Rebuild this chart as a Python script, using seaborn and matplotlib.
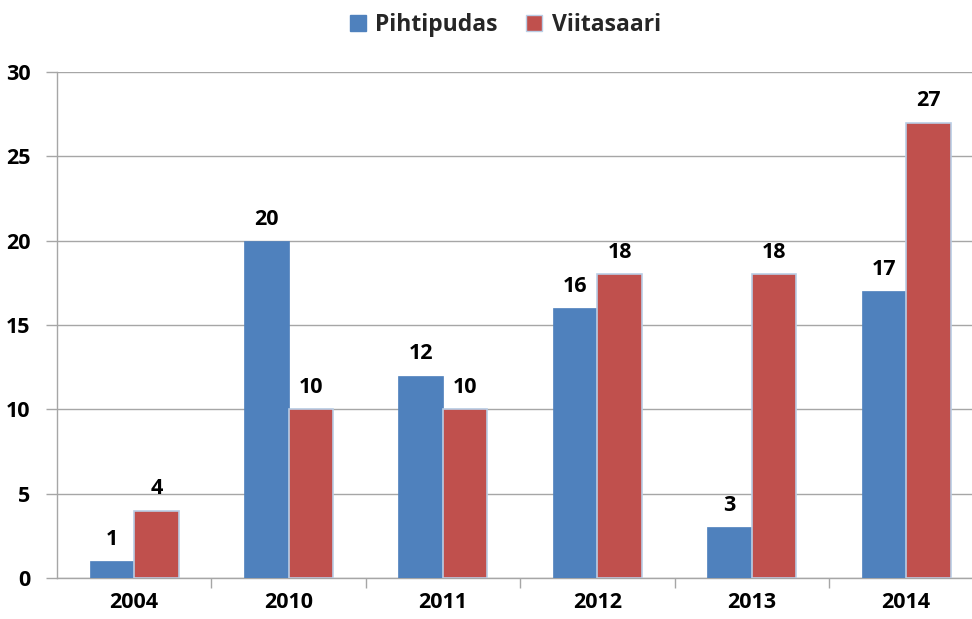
import matplotlib
matplotlib.use("Agg")
import matplotlib.pyplot as plt
import seaborn as sns
import pandas as pd
import numpy as np
from matplotlib.ticker import FixedLocator

years = ["2004", "2010", "2011", "2012", "2013", "2014"]
pihtipudas = [1, 20, 12, 16, 3, 17]
viitasaari = [4, 10, 10, 18, 18, 27]
series_names = ["Pihtipudas", "Viitasaari"]
y_ticks = [0, 5, 10, 15, 20, 25, 30]

df = pd.DataFrame({
    "year": years * 2,
    "value": pihtipudas + viitasaari,
    "series": [series_names[0]] * len(years) + [series_names[1]] * len(years),
})

sns.set_theme(style="white")
plt.rcParams["font.family"] = ["Open Sans", "DejaVu Sans"]
plt.rcParams["font.weight"] = "bold"

fig = plt.figure(figsize=(9.72, 6.19), dpi=100)
ax = fig.add_axes([0.0586, 0.0662, 0.953, 0.8175])

palette = {"Pihtipudas": "#4F81BD", "Viitasaari": "#C0504D"}
sns.barplot(data=df, x="year", y="value", hue="series", palette=palette,
            width=0.576, saturation=1, ax=ax, legend=True, zorder=3)

# light blue outline on the red bars
for bar in ax.containers[1]:
    bar.set_edgecolor("#B9CDE5")
    bar.set_linewidth(1.2)
for bar in ax.containers[0]:
    bar.set_edgecolor("#4F81BD")
    bar.set_linewidth(0.5)

for cont in ax.containers:
    ax.bar_label(cont, labels=[f"{v:.0f}" for v in cont.datavalues],
                 padding=8, fontsize=15.5, fontweight="bold", color="#000000")

ax.set_ylim(0, 30)
ax.set_xlim(-0.5, len(years) - 0.5)
ax.set_yticks(y_ticks)
ax.grid(axis="y", color="#A6A6A6", linewidth=1, zorder=0)
ax.set_axisbelow(True)
ax.set_xlabel("")
ax.set_ylabel("")

for s in ["top", "right"]:
    ax.spines[s].set_visible(False)
for s in ["left", "bottom"]:
    ax.spines[s].set_visible(True)
    ax.spines[s].set_color("#A6A6A6")
    ax.spines[s].set_linewidth(1)

ax.tick_params(axis="y", which="major", length=8, width=1, color="#A6A6A6",
               labelsize=15.5, pad=11, left=True)
ax.tick_params(axis="x", which="major", length=0, labelsize=15.5, pad=10)
ax.xaxis.set_minor_locator(FixedLocator(np.arange(0.5, len(years) - 0.5, 1.0)))
ax.tick_params(axis="x", which="minor", length=7, width=1, color="#A6A6A6",
               bottom=True)
for lbl in ax.get_xticklabels() + ax.get_yticklabels():
    lbl.set_fontweight("bold")
    lbl.set_color("#000000")

handles, labels = ax.get_legend_handles_labels()
for h in handles:
    h.set_edgecolor("#B9CDE5" if h.get_label() == "Viitasaari" else h.get_facecolor())
leg = ax.legend(handles, labels, loc="center", bbox_to_anchor=(0.484, 1.093),
                ncol=2, frameon=False,
                prop={"family": ["Open Sans", "DejaVu Sans"], "weight": "bold", "size": 16.5},
                handlelength=0.7, handleheight=0.7,
                handletextpad=0.4, columnspacing=1.25)

fig.savefig("out.png", dpi=100)
